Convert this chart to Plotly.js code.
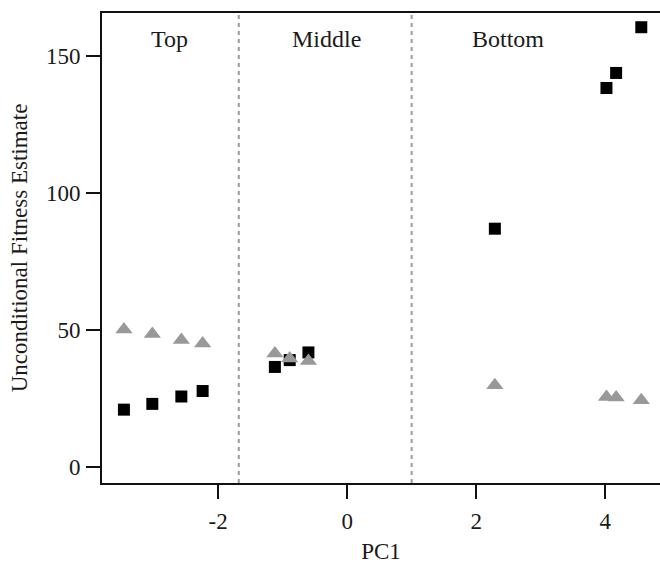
<!DOCTYPE html>
<html>
<head>
<meta charset="utf-8">
<script src="https://cdn.plot.ly/plotly-3.0.1.min.js"></script>
<style>html,body{margin:0;padding:0;background:#fff;}#chart{width:660px;height:576px;}</style>
</head>
<body>
<div id="chart"></div>
<script>
// PC1 positions and fitness estimates
var squarePC1 = [-3.46, -3.02, -2.57, -2.24, -1.12, -0.89, -0.60, 2.29, 4.02, 4.17, 4.56];
var squareFitness = [20.9, 23.0, 25.7, 27.7, 36.5, 39.0, 41.8, 87.0, 138.4, 143.9, 160.6];
var trianglePC1 = [-3.46, -3.02, -2.57, -2.24, -1.12, -0.89, -0.60, 2.29, 4.02, 4.17, 4.56];
var triangleFitness = [50.2, 48.5, 46.3, 45.1, 41.4, 39.6, 38.7, 29.8, 25.5, 25.3, 24.3];
var regionNames = ["Top", "Middle", "Bottom"];
var regionLabelX = [-2.75, -0.32, 2.49];
var regionBoundaries = [-1.68, 1.0];
var xTicks = [-2, 0, 2, 4];
var yTicks = [0, 50, 100, 150];

var font = {family: "Liberation Serif, Times New Roman, serif", size: 23, color: "#1a1a1a"};
var labelFont = {family: "Liberation Serif, Times New Roman, serif", size: 24, color: "#1a1a1a"};

var traces = [
  {x: squarePC1, y: squareFitness, type: "scatter", mode: "markers",
   marker: {symbol: "square", size: 12, color: "#000000"}, showlegend: false, hoverinfo: "x+y"},
  {x: trianglePC1, y: triangleFitness, type: "scatter", mode: "markers",
   marker: {symbol: "triangle-up", size: 15, color: "#999999"}, showlegend: false, hoverinfo: "x+y"}
];

var shapes = regionBoundaries.map(function (b) {
  return {type: "line", xref: "x", yref: "paper", x0: b, x1: b, y0: 0, y1: 1,
          line: {color: "#9a9a9a", width: 2, dash: "4px,4px"}};
});

var annotations = regionNames.map(function (n, i) {
  return {text: n, x: regionLabelX[i], y: 156.4, xref: "x", yref: "y",
          showarrow: false, font: labelFont, xanchor: "center", yanchor: "middle"};
});

var layout = {
  width: 660, height: 576,
  margin: {l: 102, r: 0, t: 13, b: 93, pad: 0},
  paper_bgcolor: "#ffffff", plot_bgcolor: "#ffffff",
  font: font,
  showlegend: false,
  xaxis: {
    range: [-3.80, 4.85], tickvals: xTicks, ticktext: xTicks.map(String),
    showline: true, linecolor: "#111111", linewidth: 2, mirror: true,
    ticks: "outside", ticklen: 14, tickwidth: 2, tickcolor: "#111111",
    showgrid: false, zeroline: false, ticklabelstandoff: 2,
    tickfont: font,
    title: {text: "PC1", font: font, standoff: 10}
  },
  yaxis: {
    range: [-5.9, 165.8], tickvals: yTicks, ticktext: yTicks.map(String),
    showline: true, linecolor: "#111111", linewidth: 2, mirror: false,
    ticks: "outside", ticklen: 14, tickwidth: 2, tickcolor: "#111111",
    showgrid: false, zeroline: false, ticklabelstandoff: 1,
    tickfont: font,
    title: {text: "Unconditional Fitness Estimate", font: font, standoff: 12}
  },
  shapes: shapes,
  annotations: annotations
};

Plotly.newPlot("chart", traces, layout, {displayModeBar: false, staticPlot: true});
</script>
</body>
</html>
